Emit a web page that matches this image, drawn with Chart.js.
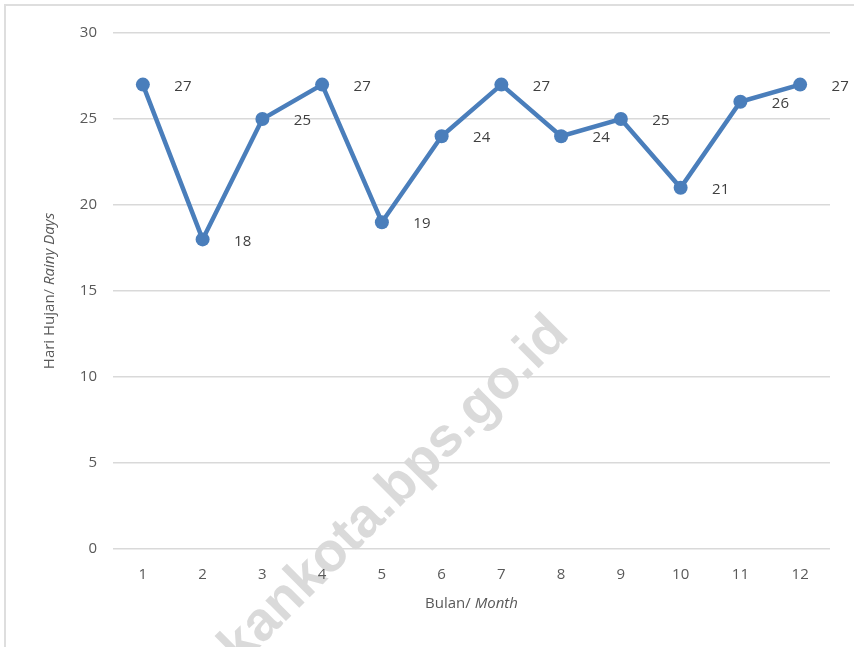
<!DOCTYPE html>
<html>
<head>
<meta charset="utf-8">
<script src="https://cdn.jsdelivr.net/npm/chart.js@4"></script>
<style>
  html, body { margin: 0; padding: 0; background: #fff; overflow: hidden; }
  #frame { position: absolute; left: 4px; top: 4px; width: 900px; height: 700px; border: 2px solid #dedede; box-sizing: border-box; }
  #wrap { position: absolute; left: 0; top: 0; width: 854px; height: 647px; }
</style>
</head>
<body>
<div id="frame"></div>
<div id="wrap"><canvas id="myChart" width="854" height="647"></canvas></div>
<script>
const months = ['1', '2', '3', '4', '5', '6', '7', '8', '9', '10', '11', '12'];
const rainyDays = [27, 18, 25, 27, 19, 24, 27, 24, 25, 21, 26, 27];
const yTicks = [0, 5, 10, 15, 20, 25, 30];

const FONT = "'Open Sans', 'Liberation Sans', sans-serif";

// label angka di kanan titik data
const valueLabels = {
  id: 'valueLabels',
  afterDatasetsDraw(chart) {
    const ctx = chart.ctx;
    const meta = chart.getDatasetMeta(0);
    ctx.save();
    ctx.font = '15px ' + FONT;
    ctx.fillStyle = '#404040';
    ctx.textAlign = 'center';
    ctx.textBaseline = 'middle';
    meta.data.forEach((pt, i) => {
      ctx.fillText(String(rainyDays[i]), pt.x + 40, pt.y + 2);
    });
    ctx.restore();
  }
};

// judul sumbu dengan bagian miring
const axisTitles = {
  id: 'axisTitles',
  afterDraw(chart) {
    const ctx = chart.ctx;
    const area = chart.chartArea;
    ctx.save();
    ctx.fillStyle = '#595959';
    ctx.textBaseline = 'middle';

    const drawMixed = (a, b, cx, cy) => {
      ctx.font = '15px ' + FONT;
      const wa = ctx.measureText(a).width;
      ctx.font = 'italic 15px ' + FONT;
      const wb = ctx.measureText(b).width;
      let x = cx - (wa + wb) / 2;
      ctx.textAlign = 'left';
      ctx.font = '15px ' + FONT;
      ctx.fillText(a, x, cy);
      ctx.font = 'italic 15px ' + FONT;
      ctx.fillText(b, x + wa, cy);
    };

    drawMixed('Bulan/ ', 'Month', (area.left + area.right) / 2, 604);

    ctx.translate(50, 291);
    ctx.rotate(-Math.PI / 2);
    drawMixed('Hari Hujan/ ', 'Rainy Days', 0, 0);
    ctx.restore();
  }
};

const watermark = {
  id: 'watermark',
  beforeDraw(chart) {
    const ctx = chart.ctx;
    ctx.save();
    ctx.translate(240, 667);
    ctx.rotate(-45 * Math.PI / 180);
    ctx.font = 'bold 55px "Liberation Sans", Arial, sans-serif';
    ctx.fillStyle = 'rgba(205,205,205,0.75)';
    ctx.textBaseline = 'alphabetic';
    ctx.textAlign = 'left';
    ctx.fillText('kankota.bps.go.id', 0, 0);
    ctx.textAlign = 'right';
    ctx.fillText('e', 0, 0);
    ctx.restore();
  }
};

const ctx = document.getElementById('myChart').getContext('2d');
new Chart(ctx, {
  type: 'line',
  data: {
    labels: months,
    datasets: [{
      data: rainyDays,
      borderColor: '#4a7ebb',
      backgroundColor: '#4a7ebb',
      borderWidth: 4.5,
      pointRadius: 7,
      pointHoverRadius: 7,
      pointBorderWidth: 0,
      tension: 0,
      fill: false
    }]
  },
  options: {
    responsive: false,
    animation: false,
    layout: { padding: { top: 33, right: 24, left: 0, bottom: 0 } },
    plugins: {
      legend: { display: false },
      tooltip: { enabled: false }
    },
    scales: {
      x: {
        offset: true,
        grid: { display: false, drawTicks: false },
        border: { display: false },
        ticks: { color: '#595959', font: { family: FONT, size: 15 }, padding: 17 },
        afterFit: s => { s.height = 98; }
      },
      y: {
        min: 0,
        max: 30,
        afterBuildTicks: s => { s.ticks = yTicks.map(v => ({ value: v })); },
        grid: { color: '#d9d9d9', lineWidth: 1.5, drawTicks: false },
        border: { display: false },
        ticks: { color: '#595959', font: { family: FONT, size: 15 }, padding: 16 },
        afterFit: s => { s.width = 113; }
      }
    }
  },
  plugins: [watermark, valueLabels, axisTitles]
});
</script>
</body>
</html>
